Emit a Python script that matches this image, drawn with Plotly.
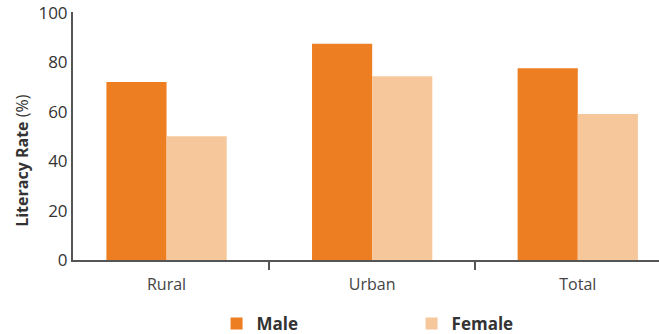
import plotly.graph_objects as go

categories = ["Rural", "Urban", "Total"]
male = [72, 87.5, 77.5]
female = [50, 74.3, 59]
y_ticks = [0, 20, 40, 60, 80, 100]

MALE_C = "#EE7E22"
FEMALE_C = "#F7C79C"
AX_C = "#555555"
FONT = "Open Sans, Noto Sans, DejaVu Sans, sans-serif"

fig = go.Figure()
fig.add_trace(go.Bar(x=categories, y=male, name="<b>Male</b>", marker_color=MALE_C,
                     marker_line_width=0))
fig.add_trace(go.Bar(x=categories, y=female, name="<b>Female</b>", marker_color=FEMALE_C,
                     marker_line_width=0))
# helper axis for the single inner tick at the top of the y axis
fig.add_trace(go.Scatter(x=[categories[0]], y=[0], yaxis="y2", mode="markers",
                         marker=dict(opacity=0), showlegend=False, hoverinfo="skip"))

fig.update_layout(
    width=659, height=334,
    margin=dict(l=73, r=0, t=12, b=74, autoexpand=False),
    paper_bgcolor="white", plot_bgcolor="white",
    barmode="group", bargap=0.415, bargroupgap=0,
    font=dict(family=FONT, color="#333333"),
    xaxis=dict(
        type="category", range=[-0.455, 2.395],
        showline=True, linecolor=AX_C, linewidth=2,
        ticks="outside", tickson="boundaries", ticklen=8, tickwidth=1.5, tickcolor=AX_C,
        tickfont=dict(size=16, color="#444444"), ticklabelstandoff=9,
        showgrid=False, zeroline=False, automargin=False,
    ),
    yaxis=dict(
        range=[0, 100.3], tickvals=y_ticks,
        showline=True, linecolor=AX_C, linewidth=2,
        ticks="", tickfont=dict(size=17, color="#333333"),
        showgrid=False, zeroline=False, automargin=False,
    ),
    yaxis2=dict(
        overlaying="y", range=[0, 100.3], tickvals=[100], ticks="inside", ticklen=8,
        tickwidth=2, tickcolor=AX_C, showticklabels=False, showgrid=False,
        zeroline=False, showline=False, side="left", automargin=False,
    ),
    legend=dict(
        orientation="h", x=0.245, xanchor="left", y=-0.258, yanchor="middle",
        font=dict(size=17, color="#333333"), entrywidth=150, entrywidthmode="pixels",
        traceorder="normal",
    ),
    annotations=[dict(
        text="<b>Literacy Rate</b> (%)", textangle=-90,
        xref="paper", yref="paper", x=-0.087, y=0.40, xanchor="center", yanchor="middle",
        showarrow=False, font=dict(size=16, color="#333333"),
    )],
    showlegend=True,
)

fig.write_html("out.html")
